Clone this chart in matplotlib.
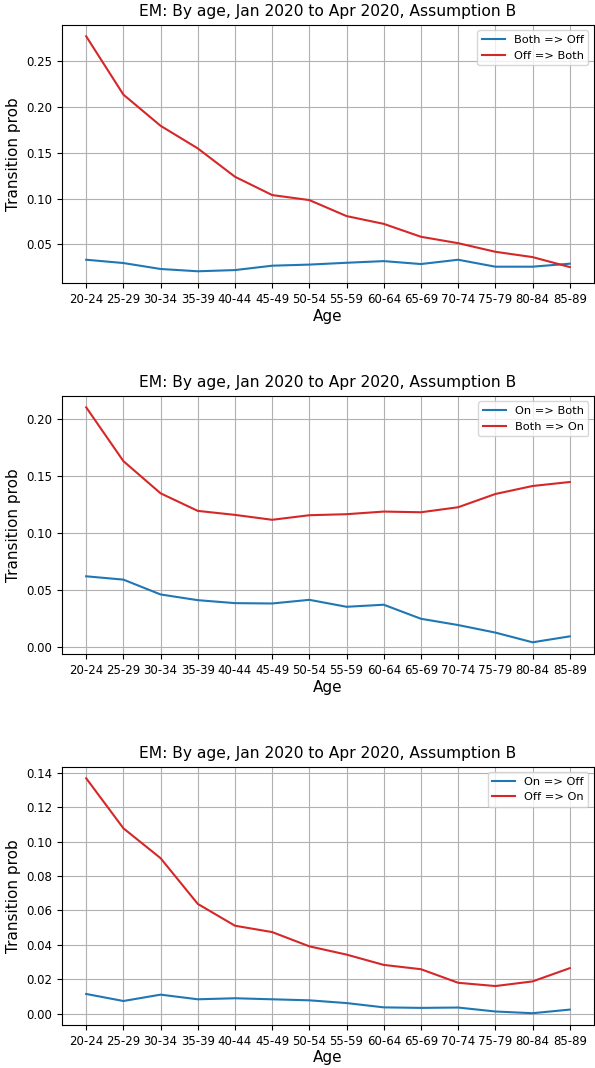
import matplotlib
matplotlib.use("Agg")
import matplotlib.pyplot as plt

plt.rcParams['font.family'] = ['DejaVu Sans']

ages = ["20-24", "25-29", "30-34", "35-39", "40-44", "45-49", "50-54",
        "55-59", "60-64", "65-69", "70-74", "75-79", "80-84", "85-89"]

# panel 1
both_to_off = [0.0333, 0.0297, 0.0232, 0.0207, 0.0220, 0.0268, 0.0280,
               0.0300, 0.0318, 0.0286, 0.0333, 0.0257, 0.0257, 0.0290]
off_to_both = [0.2775, 0.2138, 0.1797, 0.1550, 0.1240, 0.1040, 0.0985,
               0.0810, 0.0725, 0.0584, 0.0514, 0.0420, 0.0362, 0.0253]

# panel 2
on_to_both = [0.0619, 0.0590, 0.0460, 0.0410, 0.0384, 0.0381, 0.0413,
              0.0352, 0.0370, 0.0247, 0.0192, 0.0126, 0.0041, 0.0093]
both_to_on = [0.2099, 0.1628, 0.1346, 0.1192, 0.1157, 0.1114, 0.1154,
              0.1163, 0.1186, 0.1180, 0.1224, 0.1340, 0.1410, 0.1445]

# panel 3
on_to_off = [0.0114, 0.0073, 0.0110, 0.0083, 0.0089, 0.0083, 0.0077,
             0.0061, 0.0036, 0.0033, 0.0035, 0.0012, 0.0002, 0.0023]
off_to_on = [0.1369, 0.1078, 0.0904, 0.0638, 0.0511, 0.0474, 0.0391,
             0.0343, 0.0283, 0.0258, 0.0179, 0.0160, 0.0187, 0.0264]

title = "EM: By age, Jan 2020 to Apr 2020, Assumption B"

panels = [
    (both_to_off, "Both => Off", off_to_both, "Off => Both", 0.7350),
    (on_to_both, "On => Both", both_to_on, "Both => On", 0.3876),
    (on_to_off, "On => Off", off_to_on, "Off => On", 0.0403),
]

fig = plt.figure(figsize=(5.95, 10.68), dpi=100)

for blue, blue_lab, red, red_lab, bottom in panels:
    ax = fig.add_axes([0.1042, bottom, 0.894, 0.2420])
    ax.plot(ages, blue, color="tab:blue", label=blue_lab, lw=1.5)
    ax.plot(ages, red, color="tab:red", label=red_lab, lw=1.5)
    ax.set_title(title, fontsize=11.2)
    ax.set_xlabel("Age", fontsize=11, labelpad=2)
    ax.set_ylabel("Transition prob", fontsize=11)
    ax.tick_params(labelsize=8.5)
    ax.grid(True)
    ax.legend(loc="upper right", fontsize=8.2)

fig.savefig("out.png", dpi=100)
